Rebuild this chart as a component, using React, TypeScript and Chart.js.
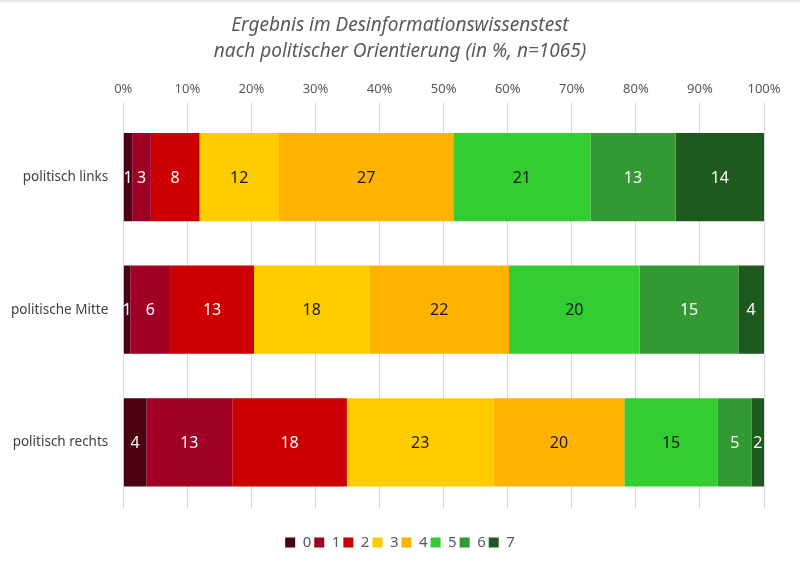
import React, { useEffect, useRef } from "react";
import { Chart, registerables } from "chart.js";

Chart.register(...registerables);

// Political orientation groups (rows)
const categories = ["politisch links", "politische Mitte", "politisch rechts"];

// Test score (0–7 correct answers), one series per score
const scoreLabels = ["0", "1", "2", "3", "4", "5", "6", "7"];

// Share of respondents in % per group: [links, Mitte, rechts]
const score0 = [1.4, 1.1, 3.6];
const score1 = [2.9, 6.2, 13.4];
const score2 = [7.6, 13.1, 17.9];
const score3 = [12.4, 18.0, 22.9];
const score4 = [27.2, 21.8, 20.4];
const score5 = [21.4, 20.4, 14.6];
const score6 = [13.3, 15.4, 5.3];
const score7 = [13.8, 4.0, 1.9];

const seriesValues = [score0, score1, score2, score3, score4, score5, score6, score7];

const seriesColors = [
  "#4b0012",
  "#a00024",
  "#cc0000",
  "#ffcc00",
  "#ffb300",
  "#33cc33",
  "#339933",
  "#1e5a1e",
];
const labelColors = ["#ffffff", "#ffffff", "#ffffff", "#1a1a1a", "#1a1a1a", "#1a1a1a", "#ffffff", "#ffffff"];

const xTicks = [0, 10, 20, 30, 40, 50, 60, 70, 80, 90, 100];

const FONT = "'Noto Sans', 'Open Sans', sans-serif";

// Writes each segment's rounded value in its centre
const segmentLabels = {
  id: "segmentLabels",
  afterDatasetsDraw(chart: any) {
    const ctx = chart.ctx;
    ctx.save();
    ctx.font = `16px ${FONT}`;
    ctx.textAlign = "center";
    ctx.textBaseline = "middle";
    chart.data.datasets.forEach((ds: any, di: number) => {
      const meta = chart.getDatasetMeta(di);
      if (meta.hidden) return;
      meta.data.forEach((bar: any, i: number) => {
        const v = ds.data[i] as number;
        const { x, base, y } = bar.getProps(["x", "base", "y"], true);
        ctx.fillStyle = labelColors[di];
        ctx.fillText(String(Math.round(v)), (x + base) / 2, y + 1);
      });
    });
    ctx.restore();
  },
};

export default function App() {
  const canvasRef = useRef<HTMLCanvasElement | null>(null);

  useEffect(() => {
    if (!canvasRef.current) return;
    const chart = new Chart(canvasRef.current, {
      type: "bar",
      data: {
        labels: categories,
        datasets: seriesValues.map((vals, i) => ({
          label: scoreLabels[i],
          data: vals,
          backgroundColor: seriesColors[i],
          borderWidth: 0,
          barPercentage: 0.665,
          categoryPercentage: 1,
        })),
      },
      options: {
        indexAxis: "y",
        responsive: false,
        animation: false,
        layout: { padding: { top: 2, right: 6, bottom: 7, left: 6 } },
        scales: {
          x: {
            position: "top",
            stacked: true,
            min: 0,
            max: 100,
            afterBuildTicks: (axis: any) => {
              axis.ticks = xTicks.map((v) => ({ value: v }));
            },
            grid: { color: "#d9d9d9", lineWidth: 1, tickLength: 8, drawTicks: true },
            border: { display: false },
            ticks: {
              color: "#595959",
              font: { family: FONT, size: 13 },
              padding: 6,
              callback: (v: any) => `${v}%`,
            },
          },
          y: {
            stacked: true,
            afterFit: (axis: any) => {
              axis.width = 117.3;
            },
            grid: { display: false, drawTicks: false },
            border: { display: false },
            ticks: {
              color: "#404040",
              font: { family: FONT, size: 13.5 },
              padding: 15,
            },
          },
          // empty right-hand margin so the plot ends at 100% with room for the last tick label
          yMargin: {
            type: "category",
            position: "right",
            grid: { display: false, drawTicks: false },
            border: { display: false },
            ticks: { display: false },
            afterFit: (axis: any) => {
              axis.width = 30;
            },
          },
        },
        plugins: {
          title: {
            display: true,
            text: [
              "Ergebnis im Desinformationswissenstest",
              "nach politischer Orientierung (in %, n=1065)",
            ],
            color: "#595959",
            font: { family: FONT, size: 19, style: "italic", weight: "normal", lineHeight: 1.37 },
            padding: { top: 9, bottom: 10 },
          },
          legend: {
            position: "bottom",
            title: { display: true, text: "", font: { size: 1 }, padding: { top: 0, bottom: 22 } },
            labels: {
              color: "#595959",
              font: { family: FONT, size: 15 },
              boxWidth: 10,
              boxHeight: 10,
              padding: 3,
            },
          },
          tooltip: { enabled: false },
        },
      },
      plugins: [segmentLabels],
    });
    return () => chart.destroy();
  }, []);

  return (
    <div style={{ position: "fixed", left: 0, top: 0, width: 800, height: 567, background: "#ffffff", borderTop: "2px solid #e6e6e6", boxSizing: "border-box" }}>
      <canvas ref={canvasRef} width={800} height={565} style={{ display: "block" }} />
    </div>
  );
}
